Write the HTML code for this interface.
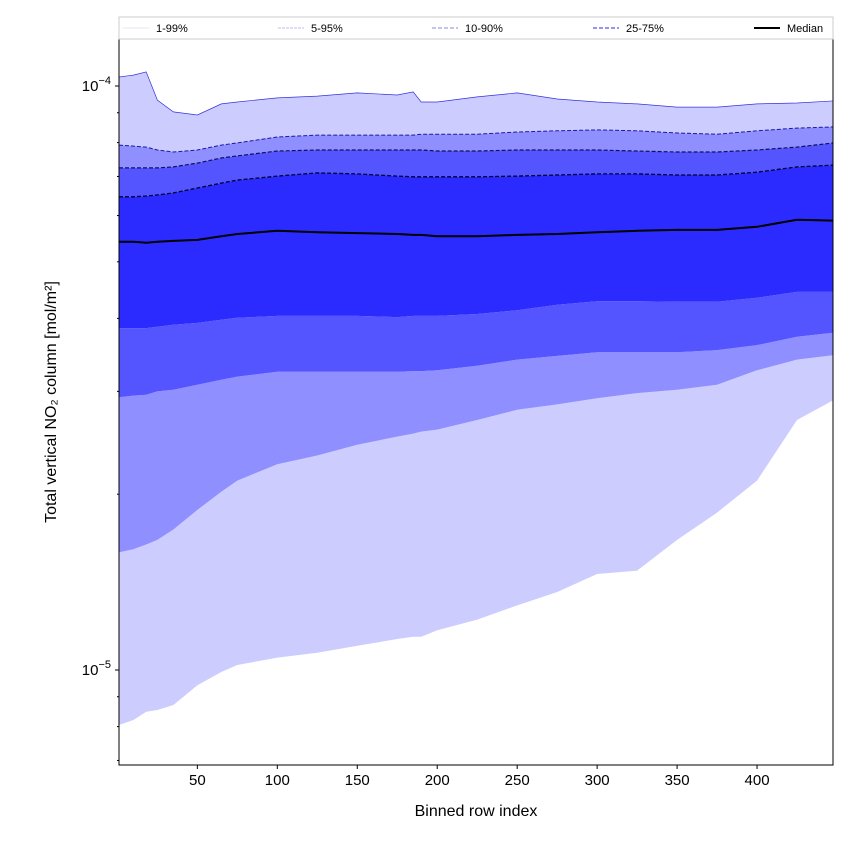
<!DOCTYPE html>
<html><head><meta charset="utf-8"><style>
body{margin:0;background:#fff;font-family:"Liberation Sans","DejaVu Sans",sans-serif}
</style></head><body>
<svg id="chart" width="850" height="850" viewBox="0 0 850 850" xmlns="http://www.w3.org/2000/svg">
</svg>
<script>
// Binned row index samples
const rowIndex = [1,10,18,25,35,50,65,75,100,125,150,175,185,190,200,225,250,275,300,325,350,375,400,425,448];
// values in units of 1e-5 mol/m2
const p99 = [10.36,10.44,10.57,9.46,9.03,8.92,9.32,9.39,9.54,9.61,9.73,9.65,9.77,9.39,9.39,9.58,9.73,9.50,9.39,9.32,9.20,9.20,9.32,9.35,9.43];
const p95 = [7.92,7.89,7.86,7.77,7.71,7.77,7.92,7.99,8.18,8.24,8.24,8.24,8.24,8.27,8.27,8.27,8.34,8.38,8.41,8.38,8.31,8.27,8.38,8.47,8.51];
const p90 = [7.24,7.24,7.24,7.24,7.27,7.38,7.53,7.59,7.74,7.77,7.77,7.77,7.77,7.77,7.74,7.74,7.77,7.77,7.77,7.74,7.71,7.71,7.77,7.86,7.99];
const p75 = [6.46,6.46,6.48,6.51,6.56,6.69,6.82,6.90,7.01,7.10,7.07,7.01,6.99,6.99,6.99,6.99,7.01,7.04,7.07,7.07,7.04,7.04,7.12,7.27,7.32];
const median = [5.41,5.41,5.39,5.41,5.43,5.45,5.53,5.58,5.65,5.62,5.60,5.58,5.56,5.56,5.53,5.53,5.56,5.58,5.62,5.65,5.67,5.67,5.74,5.90,5.88];
const p25 = [3.85,3.85,3.85,3.87,3.90,3.93,3.98,4.01,4.04,4.04,4.04,4.02,4.04,4.04,4.04,4.07,4.13,4.22,4.28,4.28,4.27,4.27,4.34,4.44,4.44];
const p10 = [2.93,2.95,2.96,3.00,3.02,3.08,3.14,3.18,3.24,3.24,3.24,3.24,3.25,3.25,3.26,3.32,3.40,3.45,3.50,3.50,3.50,3.53,3.60,3.72,3.78];
const p5 = [1.59,1.61,1.64,1.67,1.74,1.88,2.02,2.11,2.25,2.33,2.43,2.51,2.54,2.56,2.58,2.68,2.79,2.85,2.92,2.98,3.02,3.08,3.26,3.40,3.46];
const p1 = [0.805,0.821,0.848,0.854,0.871,0.942,0.992,1.02,1.05,1.07,1.10,1.13,1.14,1.14,1.17,1.22,1.29,1.36,1.46,1.48,1.67,1.86,2.11,2.68,2.90];
const xTicks = [50,100,150,200,250,300,350,400];

const svg = document.getElementById('chart');
const NS = 'http://www.w3.org/2000/svg';
const L=119,R=833,T=39,B=765;
const X0=1,X1=447.5;
const xs = v => L + (v - X0) / (X1 - X0) * (R - L);
const ys = v => 670 - (Math.log10(v*1e-5) + 5) * 584;
function mk(tag, attrs, parent){const e=document.createElementNS(NS,tag);for(const k in attrs)e.setAttribute(k,attrs[k]);(parent||svg).appendChild(e);return e;}

const clip = mk('clipPath',{id:'pc'}); mk('rect',{x:L,y:T,width:R-L,height:B-T},clip);
const g = mk('g',{'clip-path':'url(#pc)'});

function band(lo, hi, color, name){
  let d='M'+rowIndex.map((r,i)=>xs(r).toFixed(1)+','+ys(hi[i]).toFixed(1)).join('L');
  for(let i=rowIndex.length-1;i>=0;i--) d+='L'+xs(rowIndex[i]).toFixed(1)+','+ys(lo[i]).toFixed(1);
  const p = mk('path',{d:d+'Z',fill:color,stroke:'none'},g);
  
  
}
function line(arr, color, w, dash, name){
  const d='M'+rowIndex.map((r,i)=>xs(r).toFixed(1)+','+ys(arr[i]).toFixed(1)).join('L');
  const p = mk('path',{d:d,fill:'none',stroke:color,'stroke-width':w},g);
  if(dash) p.setAttribute('stroke-dasharray',dash);
  
  
}
band(p1,p5,'#ccccff','band-p1-p5');
band(p95,p99,'#ccccff','band-p95-p99');
band(p5,p10,'#8f8fff','band-p5-p10');
band(p90,p95,'#8f8fff','band-p90-p95');
band(p10,p25,'#5555ff','band-p10-p25');
band(p75,p90,'#5555ff','band-p75-p90');
band(p25,p75,'#2b2bff','band-p25-p75');
line(p99,'#3333dd',0.7,null,'p99-line');
line(p95,'#1a1aa0',1,'4,2','p95-line');
line(p90,'#101060',1.2,'4,2','p90-line');
line(p75,'#000030',1.3,'4,2','p75-line');
line(median,'#000',2,null,'median-line');

// axes frame
const fr = mk('rect',{x:L,y:T,width:R-L,height:B-T,fill:'none',stroke:'#000','stroke-width':1});
 

// x ticks
xTicks.forEach(t=>{
  const x=xs(t);
  mk('line',{x1:x,x2:x,y1:B,y2:B+4,stroke:'#000'});
  const tx=mk('text',{x:x,y:B+20,'text-anchor':'middle','font-size':15,fill:'#000'});
  tx.textContent=t;
  
  
});
// y ticks (log)
for(let dec=-6;dec<=-4;dec++){
  for(let m=1;m<=9;m++){
    const v=m*Math.pow(10,dec)*1e5;
    const y=ys(v);
    if(y<T-0.5||y>B+0.5) continue;
    mk('line',{x1:L,x2:L-(m===1?4:2),y1:y,y2:y,stroke:'#000'});
    if(m===1){
      const tx=mk('text',{x:L-8,y:y+5,'text-anchor':'end','font-size':15,fill:'#000'});
      tx.innerHTML='10<tspan dy="-7" font-size="11">\u2212'+(-dec)+'</tspan>';
      
      
    }
  }
}
const xt=mk('text',{x:(L+R)/2,y:816,'text-anchor':'middle','font-size':16,fill:'#000'});
xt.textContent='Binned row index';


const yt=mk('text',{x:0,y:0,'text-anchor':'middle','font-size':16,fill:'#000',transform:'translate(56,402) rotate(-90)'});
yt.textContent='Total vertical NO\u2082 column [mol/m\u00b2]';



// legend
const lg=mk('g',{});


mk('rect',{x:119,y:17,width:714,height:22,fill:'#fff',stroke:'#ccc','stroke-width':1},lg);
const legItems=[['1-99%',123,'#dcdcff',0.8,null],['5-95%',278,'#a8a8f0',0.8,'3,1'],['10-90%',432,'#8a8ae0',1,'4,2'],['25-75%',593,'#5555ee',1.2,'4,2'],['Median',754,'#000',2,null]];
legItems.forEach(it=>{
  const e=mk('g',{},lg);
  
  
  const ln=mk('line',{x1:it[1],x2:it[1]+26,y1:28,y2:28,stroke:it[2],'stroke-width':it[3]},e);
  if(it[4]) ln.setAttribute('stroke-dasharray',it[4]);
  const t=mk('text',{x:it[1]+33,y:32,'font-size':11,fill:'#000'},e);
  t.textContent=it[0];
});
</script>
</body></html>
